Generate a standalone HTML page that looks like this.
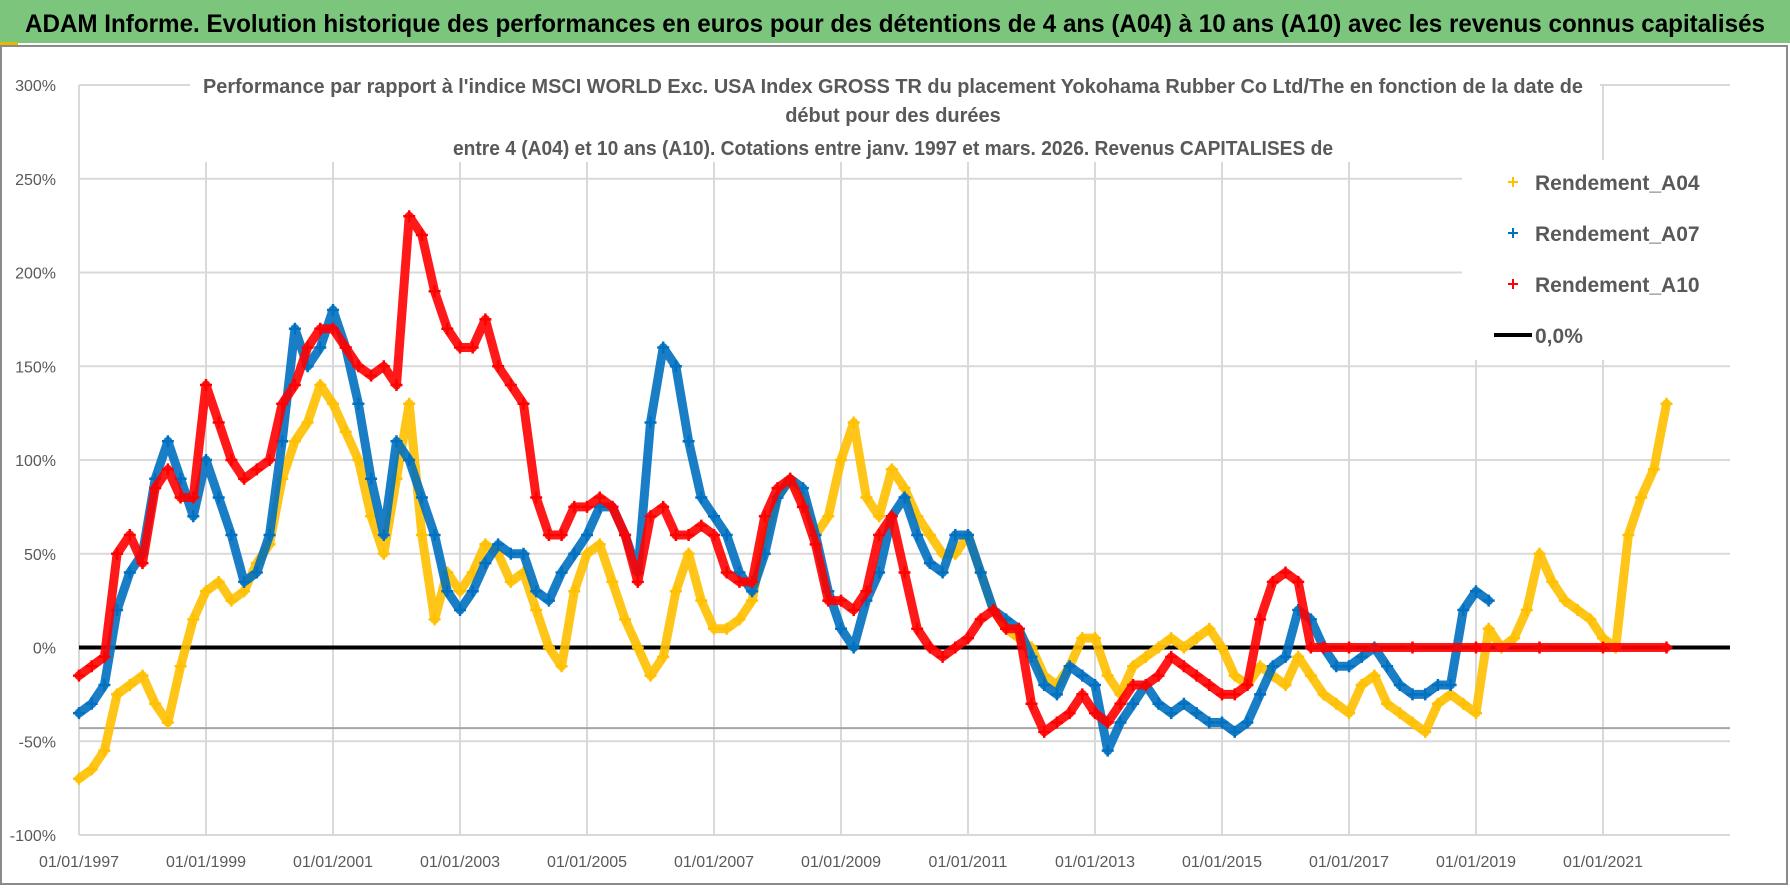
<!DOCTYPE html>
<html><head><meta charset="utf-8">
<style>
html,body{margin:0;padding:0;background:#fff;}
body{width:1790px;height:886px;overflow:hidden;font-family:"Liberation Sans",sans-serif;}
</style></head>
<body>
<svg id="chart" width="1790" height="886" xmlns="http://www.w3.org/2000/svg">
  <rect x="0" y="0" width="1790" height="886" fill="#fff"/>
  <rect x="0" y="0" width="1790" height="43" fill="#7cc57c"/>
  <rect x="0" y="42" width="18" height="3" fill="#e6b800"/>
  <rect x="1" y="46" width="1786" height="838" fill="none" stroke="#8a8a8a" stroke-width="2"/>
  <text x="25" y="32" font-size="25" font-weight="bold" fill="#000" textLength="1740" lengthAdjust="spacingAndGlyphs">ADAM Informe. Evolution historique des performances en euros pour des détentions de 4 ans (A04) à 10 ans (A10) avec les revenus connus capitalisés</text>
  <g id="grid"></g>
  <g id="axes"></g>
  <rect x="190" y="66" width="1410" height="96" fill="#fff"/>
  <g font-size="20" font-weight="bold" fill="#595959" text-anchor="middle">
    <text x="893" y="93" textLength="1380" lengthAdjust="spacingAndGlyphs">Performance par rapport à l'indice MSCI WORLD Exc. USA Index GROSS TR  du placement Yokohama Rubber Co Ltd/The en fonction de la date de</text>
    <text x="893" y="122">début pour des durées</text>
    <text x="893" y="155" textLength="880" lengthAdjust="spacingAndGlyphs">entre 4 (A04) et 10 ans (A10). Cotations entre janv. 1997 et mars. 2026. Revenus CAPITALISES de</text>
  </g>
  <g id="series"></g>
  <rect x="1462" y="160" width="268" height="200" fill="#fff"/>
  <g id="legend" font-size="21" font-weight="bold" fill="#595959"></g>
</svg>
<script>
// x: decimal years, y: percent
const xTickLabels = ["01/01/1997","01/01/1999","01/01/2001","01/01/2003","01/01/2005","01/01/2007","01/01/2009","01/01/2011","01/01/2013","01/01/2015","01/01/2017","01/01/2019","01/01/2021"];
const xTickYears = [1997,1999,2001,2003,2005,2007,2009,2011,2013,2015,2017,2019,2021];
const yTicks = [300,250,200,150,100,50,0,-50,-100];
const yTickLabels = ["300%","250%","200%","150%","100%","50%","0%","-50%","-100%"];

const a04Dates = [1997,1997.2,1997.4,1997.6,1997.8,1998,1998.2,1998.4,1998.6,1998.8,1999,1999.2,1999.4,1999.6,1999.8,2000,2000.2,2000.4,2000.6,2000.8,2001,2001.2,2001.4,2001.6,2001.8,2002,2002.2,2002.4,2002.6,2002.8,2003,2003.2,2003.4,2003.6,2003.8,2004,2004.2,2004.4,2004.6,2004.8,2005,2005.2,2005.4,2005.6,2005.8,2006,2006.2,2006.4,2006.6,2006.8,2007,2007.2,2007.4,2007.6,2007.8,2008,2008.2,2008.4,2008.6,2008.8,2009,2009.2,2009.4,2009.6,2009.8,2010,2010.2,2010.4,2010.6,2010.8,2011,2011.2,2011.4,2011.6,2011.8,2012,2012.2,2012.4,2012.6,2012.8,2013,2013.2,2013.4,2013.6,2013.8,2014,2014.2,2014.4,2014.6,2014.8,2015,2015.2,2015.4,2015.6,2015.8,2016,2016.2,2016.4,2016.6,2016.8,2017,2017.2,2017.4,2017.6,2017.8,2018,2018.2,2018.4,2018.6,2018.8,2019,2019.2,2019.4,2019.6,2019.8,2020,2020.2,2020.4,2020.6,2020.8,2021,2021.2,2021.4,2021.6,2021.8,2022,2022.2,2022.4];
const a04Values = [-70,-65,-55,-25,-20,-15,-30,-40,-10,15,30,35,25,30,45,55,90,110,120,140,130,115,100,70,50,90,130,60,15,40,30,40,55,50,35,40,20,0,-10,30,50,55,35,15,0,-15,-5,30,50,25,10,10,15,25,60,80,90,80,60,70,100,120,80,70,95,85,70,60,50,50,60,40,20,10,5,0,-15,-20,-10,5,5,-15,-25,-10,-5,0,5,0,5,10,0,-15,-20,-10,-15,-20,-5,-15,-25,-30,-35,-20,-15,-30,-35,-40,-45,-30,-25,-30,-35,10,0,5,20,50,35,25,20,15,5,0,60,80,95,130];
const a07Dates = [1997,1997.2,1997.4,1997.6,1997.8,1998,1998.2,1998.4,1998.6,1998.8,1999,1999.2,1999.4,1999.6,1999.8,2000,2000.2,2000.4,2000.6,2000.8,2001,2001.2,2001.4,2001.6,2001.8,2002,2002.2,2002.4,2002.6,2002.8,2003,2003.2,2003.4,2003.6,2003.8,2004,2004.2,2004.4,2004.6,2004.8,2005,2005.2,2005.4,2005.6,2005.8,2006,2006.2,2006.4,2006.6,2006.8,2007,2007.2,2007.4,2007.6,2007.8,2008,2008.2,2008.4,2008.6,2008.8,2009,2009.2,2009.4,2009.6,2009.8,2010,2010.2,2010.4,2010.6,2010.8,2011,2011.2,2011.4,2011.6,2011.8,2012,2012.2,2012.4,2012.6,2012.8,2013,2013.2,2013.4,2013.6,2013.8,2014,2014.2,2014.4,2014.6,2014.8,2015,2015.2,2015.4,2015.6,2015.8,2016,2016.2,2016.4,2016.6,2016.8,2017,2017.2,2017.4,2017.6,2017.8,2018,2018.2,2018.4,2018.6,2018.8,2019,2019.2];
const a07Values = [-35,-30,-20,20,40,50,90,110,90,70,100,80,60,35,40,60,110,170,150,160,180,160,130,90,60,110,100,80,60,30,20,30,45,55,50,50,30,25,40,50,60,75,75,60,40,120,160,150,110,80,70,60,40,30,50,80,90,85,60,30,10,0,25,40,70,80,60,45,40,60,60,40,20,15,10,-5,-20,-25,-10,-15,-20,-55,-40,-30,-20,-30,-35,-30,-35,-40,-40,-45,-40,-25,-10,-5,20,15,0,-10,-10,-5,0,-10,-20,-25,-25,-20,-20,20,30,25];
const a10Dates = [1997,1997.2,1997.4,1997.6,1997.8,1998,1998.2,1998.4,1998.6,1998.8,1999,1999.2,1999.4,1999.6,1999.8,2000,2000.2,2000.4,2000.6,2000.8,2001,2001.2,2001.4,2001.6,2001.8,2002,2002.2,2002.4,2002.6,2002.8,2003,2003.2,2003.4,2003.6,2003.8,2004,2004.2,2004.4,2004.6,2004.8,2005,2005.2,2005.4,2005.6,2005.8,2006,2006.2,2006.4,2006.6,2006.8,2007,2007.2,2007.4,2007.6,2007.8,2008,2008.2,2008.4,2008.6,2008.8,2009,2009.2,2009.4,2009.6,2009.8,2010,2010.2,2010.4,2010.6,2010.8,2011,2011.2,2011.4,2011.6,2011.8,2012,2012.2,2012.4,2012.6,2012.8,2013,2013.2,2013.4,2013.6,2013.8,2014,2014.2,2014.4,2014.6,2014.8,2015,2015.2,2015.4,2015.6,2015.8,2016,2016.2,2016.4,2016.6,2017,2018,2019,2020,2021,2022,2022.9];
const a10Values = [-15,-10,-5,50,60,45,85,95,80,80,140,120,100,90,95,100,130,140,160,170,170,160,150,145,150,140,230,220,190,170,160,160,175,150,140,130,80,60,60,75,75,80,75,60,35,70,75,60,60,65,60,40,35,35,70,85,90,75,55,25,25,20,30,60,70,40,10,0,-5,0,5,15,20,10,10,-30,-45,-40,-35,-25,-35,-40,-30,-20,-20,-15,-5,-10,-15,-20,-25,-25,-20,15,35,40,35,0,0,0,0,0,0,0,0];

const X0=1997, X1=2023, PX0=79, PX1=1730;
const Y0=-100, Y1=300, PY0=835, PY1=85;
function sx(v){return PX0+(v-X0)/(X1-X0)*(PX1-PX0);}
function sy(v){return PY0+(v-Y0)/(Y1-Y0)*(PY1-PY0);}
const NS="http://www.w3.org/2000/svg";
function mk(tag,attrs,parent){const e=document.createElementNS(NS,tag);for(const k in attrs)e.setAttribute(k,attrs[k]);parent.appendChild(e);return e;}

const grid=document.getElementById('grid');
const axes=document.getElementById('axes');
yTicks.forEach((t,i)=>{
  const l=mk('line',{x1:PX0,x2:PX1,y1:sy(t),y2:sy(t),stroke:'#d9d9d9','stroke-width':2},grid);
  
  
  const tx=mk('text',{x:56,y:sy(t)+6,'text-anchor':'end','font-size':16,fill:'#595959'},axes);
  tx.textContent=yTickLabels[i];
  
  
});
xTickYears.forEach((t,i)=>{
  const l=mk('line',{x1:sx(t),x2:sx(t),y1:PY1,y2:PY0,stroke:'#d9d9d9','stroke-width':2},grid);
  
  
  const tx=mk('text',{x:sx(t),y:PY0+32,'text-anchor':'middle','font-size':16,fill:'#595959'},axes);
  tx.textContent=xTickLabels[i];
  
  
});
const gl=mk('line',{x1:PX0,x2:PX1,y1:sy(-43),y2:sy(-43),stroke:'#a6a6a6','stroke-width':2},grid);


const zl=mk('line',{x1:PX0,x2:PX1,y1:sy(0),y2:sy(0),stroke:'#000','stroke-width':4},grid);



const series=document.getElementById('series');
function plot(dates,vals,color,name){
  const g=mk('g',{},series);
  
  
  let d='';
  dates.forEach((x,i)=>{d+=(i?'L':'M')+sx(x).toFixed(1)+' '+sy(vals[i]).toFixed(1);});
  mk('path',{d:d,fill:'none',stroke:color,'stroke-width':9,'stroke-linejoin':'round','stroke-linecap':'round',opacity:0.9},g);
  dates.forEach((x,i)=>{
    const cx=sx(x),cy=sy(vals[i]);
    const p=mk('path',{d:`M${cx-6} ${cy}H${cx+6}M${cx} ${cy-6}V${cy+6}`,stroke:color,'stroke-width':2.5},g);
    
    
  });
}
plot(a04Dates,a04Values,'#ffc000','series-a04');
plot(a07Dates,a07Values,'#0070c0','series-a07');
plot(a10Dates,a10Values,'#ff0000','series-a10');

const lg=document.getElementById('legend');
const items=[['Rendement_A04','#ffc000'],['Rendement_A07','#0070c0'],['Rendement_A10','#ff0000']];
items.forEach((it,i)=>{
  const y=182+i*51;
  const g=mk('g',{},lg);
  
  
  mk('path',{d:`M${1508} ${y}H${1518}M${1513} ${y-5}V${y+5}`,stroke:it[1],'stroke-width':2},g);
  const t=mk('text',{x:1535,y:y+8},g);t.textContent=it[0];
});
const g4=mk('g',{},lg);


mk('line',{x1:1494,x2:1532,y1:335,y2:335,stroke:'#000','stroke-width':4},g4);
const t4=mk('text',{x:1535,y:343},g4);t4.textContent='0,0%';
</script>
</body></html>
